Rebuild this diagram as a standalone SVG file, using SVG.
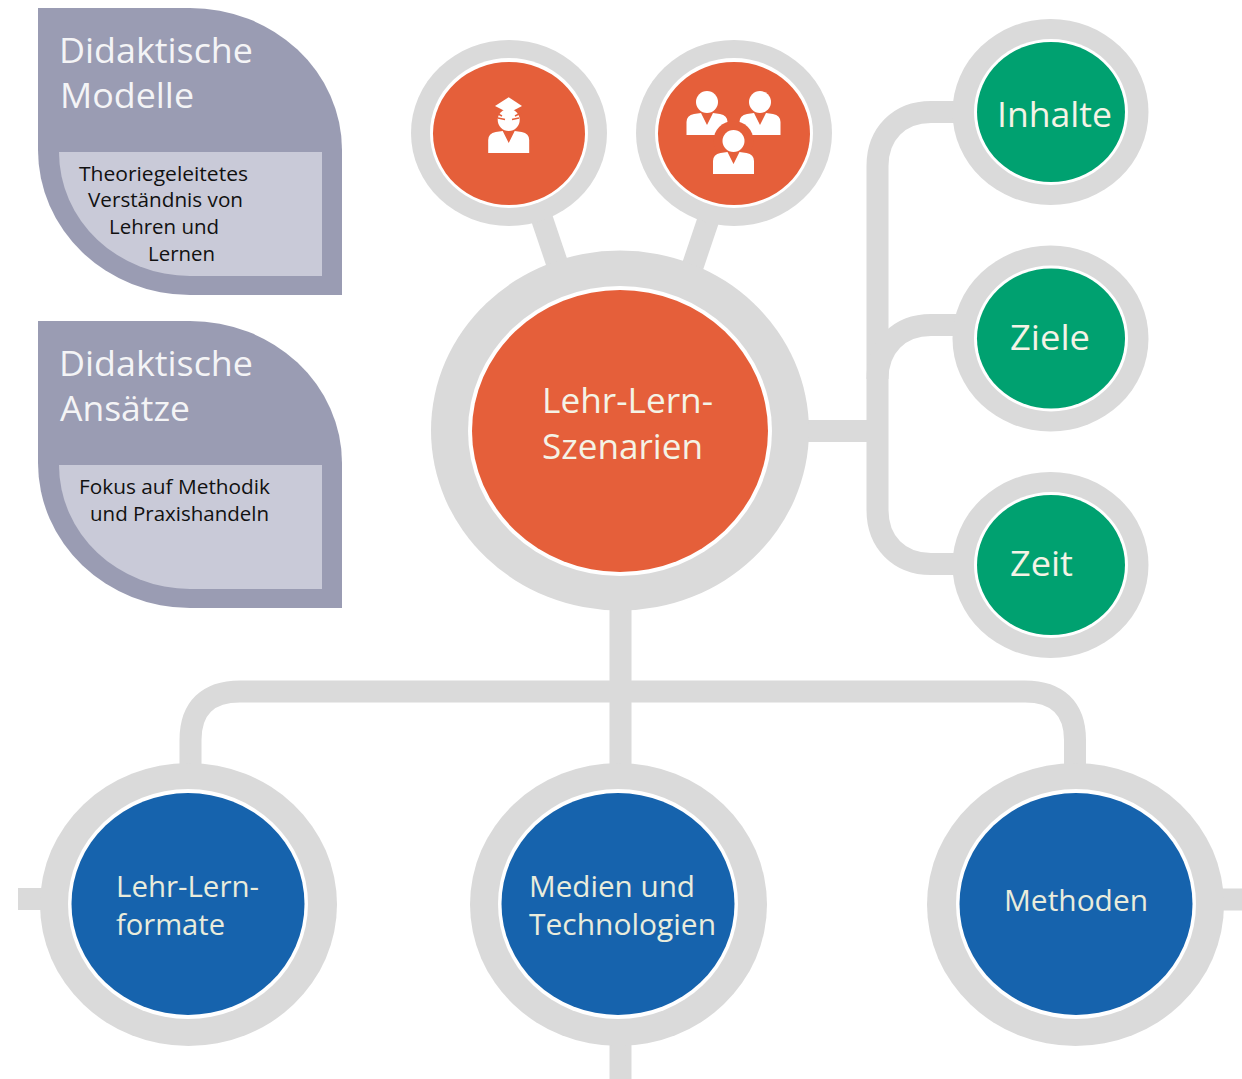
<svg xmlns="http://www.w3.org/2000/svg" xmlns:xlink="http://www.w3.org/1999/xlink" width="1242" height="1079" viewBox="0 0 1242 1079">
<style>
text{font-family:"Open Sans","Noto Sans","Liberation Sans",sans-serif}
.lt{fill:#f4f3e6;font-size:34px;}
.bl{fill:#e9ecdc;font-size:30px;}
.hd{fill:#f4f4f6;font-size:34px;}
.sm{fill:#111;font-size:20px;}
.ring{fill:#dadada}
.gap{fill:#fff}
.or{fill:#e55f3a}
.gr{fill:#00a170}
.bu{fill:#1663ad}
.leaf{fill:#9a9cb3}
.inner{fill:#c9cad8}
.conn{fill:none;stroke:#dadada;stroke-width:22}
</style>
<defs>
<g id="person"><circle cx="0" cy="0" r="11" fill="#fff"/><path fill="#fff" d="M-20.500,33 V20 Q-20.500,13.500 -13,12 L-6,11 L0,23 L6,11 L13,12 Q20.500,13.500 20.500,20 V33Z"/></g>
</defs>
<rect width="1242" height="1079" fill="#fff"/>
<g id="connectors">
<path class="conn" d="M535,198 L562,278"/>
<path class="conn" d="M715,200 L688,280"/>
<path class="conn" d="M800,431 H877"/>
<path class="conn" d="M965,112 H931 C899,112 877.500,134 877.500,166 V510 C877.500,542 899,564 931,564 H965"/>
<path class="conn" d="M965,325 H931 C899,325 877.500,347 877.500,379"/>
<path class="conn" d="M620.500,600 V780"/>
<path class="conn" d="M620.500,1040 V1079"/>
<path class="conn" d="M190.500,780 V740 C190.500,708 208,691.500 240,691.500 H1025 C1057,691.500 1075,708 1075,740 V780"/>
<path class="conn" d="M18,899 H60"/>
<path class="conn" d="M1200,899.500 H1242"/>
</g>
<g id="leaf-modelle">
<path class="leaf" d="M38,8 H190 A152,142 0 0 1 342,150 V295 H190 A152,145 0 0 1 38,150 Z"/>
<path class="inner" d="M59,152 H322 V276 H190 A131,124 0 0 1 59,152 Z"/>
<text class="hd" x="59" y="63" textLength="194" lengthAdjust="spacingAndGlyphs">Didaktische</text>
<text class="hd" x="60" y="108" textLength="134" lengthAdjust="spacingAndGlyphs">Modelle</text>
<text class="sm" x="79" y="181" textLength="169" lengthAdjust="spacingAndGlyphs">Theoriegeleitetes</text>
<text class="sm" x="88" y="207" textLength="155" lengthAdjust="spacingAndGlyphs">Verständnis von</text>
<text class="sm" x="109" y="234" textLength="110" lengthAdjust="spacingAndGlyphs">Lehren und</text>
<text class="sm" x="148" y="261" textLength="67" lengthAdjust="spacingAndGlyphs">Lernen</text>
</g>
<g id="leaf-ansaetze">
<path class="leaf" d="M38,321 H190 A152,142 0 0 1 342,463 V608 H190 A152,145 0 0 1 38,463 Z"/>
<path class="inner" d="M59,465 H322 V589 H190 A131,124 0 0 1 59,465 Z"/>
<text class="hd" x="59" y="376" textLength="194" lengthAdjust="spacingAndGlyphs">Didaktische</text>
<text class="hd" x="60" y="421" textLength="130" lengthAdjust="spacingAndGlyphs">Ansätze</text>
<text class="sm" x="79" y="494" textLength="191" lengthAdjust="spacingAndGlyphs">Fokus auf Methodik</text>
<text class="sm" x="90" y="521" textLength="179" lengthAdjust="spacingAndGlyphs">und Praxishandeln</text>
</g>
<g id="node-center">
<ellipse class="ring" cx="620" cy="430.500" rx="189" ry="180"/>
<ellipse class="gap" cx="620" cy="431" rx="152" ry="145"/>
<ellipse class="or" cx="620" cy="431" rx="148" ry="141"/>
<text class="lt" x="542" y="413" textLength="171" lengthAdjust="spacingAndGlyphs">Lehr-Lern-</text>
<text class="lt" x="542" y="459" textLength="161" lengthAdjust="spacingAndGlyphs">Szenarien</text>
</g>
<g id="node-student">
<ellipse class="ring" cx="509" cy="133" rx="98" ry="93"/>
<ellipse class="gap" cx="509" cy="133" rx="79" ry="75"/>
<ellipse class="or" cx="509" cy="133.500" rx="76" ry="71.500"/>
<use xlink:href="#person" href="#person" x="508.700" y="120"/>
<path d="M496,113 L502,116 M521,113 L515,116 M498,118 L505,119.500 M519,118 L512,119.500" fill="none" stroke="#e55f3a" stroke-width="1.500"/>
<path d="M495,106 L508.700,97.300 L522,106 L508.700,113 Z" fill="#fff"/>
</g>
<g id="node-group">
<ellipse class="ring" cx="734" cy="133" rx="98" ry="93"/>
<ellipse class="gap" cx="734" cy="133" rx="79" ry="75"/>
<ellipse class="or" cx="734" cy="133.500" rx="76" ry="71.500"/>
<use xlink:href="#person" href="#person" x="707" y="102"/>
<use xlink:href="#person" href="#person" x="760" y="102"/>
<circle class="or" cx="733.500" cy="141" r="20"/>
<use xlink:href="#person" href="#person" x="733.500" y="141"/>
</g>
<g id="node-inhalte">
<ellipse class="ring" cx="1050.500" cy="112" rx="98" ry="93"/>
<ellipse class="gap" cx="1051" cy="112" rx="77" ry="73"/>
<ellipse class="gr" cx="1051" cy="112" rx="74" ry="70"/>
<text class="lt" x="997" y="127" textLength="115" lengthAdjust="spacingAndGlyphs">Inhalte</text>
</g>
<g id="node-ziele">
<ellipse class="ring" cx="1050.500" cy="338.500" rx="98" ry="93"/>
<ellipse class="gap" cx="1051" cy="338.500" rx="77" ry="73"/>
<ellipse class="gr" cx="1051" cy="338.500" rx="74" ry="70"/>
<text class="lt" x="1010" y="350" textLength="80" lengthAdjust="spacingAndGlyphs">Ziele</text>
</g>
<g id="node-zeit">
<ellipse class="ring" cx="1050.500" cy="565" rx="98" ry="93"/>
<ellipse class="gap" cx="1051" cy="565" rx="77" ry="73"/>
<ellipse class="gr" cx="1051" cy="565" rx="74" ry="70"/>
<text class="lt" x="1010" y="576" textLength="63" lengthAdjust="spacingAndGlyphs">Zeit</text>
</g>
<g id="node-formate">
<ellipse class="ring" cx="188.500" cy="904.500" rx="148.500" ry="141.500"/>
<ellipse class="gap" cx="188" cy="904" rx="120" ry="115"/>
<ellipse class="bu" cx="188" cy="904" rx="116.500" ry="111"/>
<text class="bl" x="116" y="897" textLength="143" lengthAdjust="spacingAndGlyphs">Lehr-Lern-</text>
<text class="bl" x="116" y="935" textLength="109" lengthAdjust="spacingAndGlyphs">formate</text>
</g>
<g id="node-medien">
<ellipse class="ring" cx="618.500" cy="904.500" rx="148.500" ry="141.500"/>
<ellipse class="gap" cx="618" cy="904" rx="120" ry="115"/>
<ellipse class="bu" cx="618" cy="904" rx="116.500" ry="111"/>
<text class="bl" x="529" y="897" textLength="166" lengthAdjust="spacingAndGlyphs">Medien und</text>
<text class="bl" x="529" y="935" textLength="187" lengthAdjust="spacingAndGlyphs">Technologien</text>
</g>
<g id="node-methoden">
<ellipse class="ring" cx="1075.500" cy="904.500" rx="148.500" ry="141.500"/>
<ellipse class="gap" cx="1076" cy="904" rx="120" ry="115"/>
<ellipse class="bu" cx="1076" cy="904" rx="116.500" ry="111"/>
<text class="bl" x="1004" y="911" textLength="144" lengthAdjust="spacingAndGlyphs">Methoden</text>
</g>
</svg>
